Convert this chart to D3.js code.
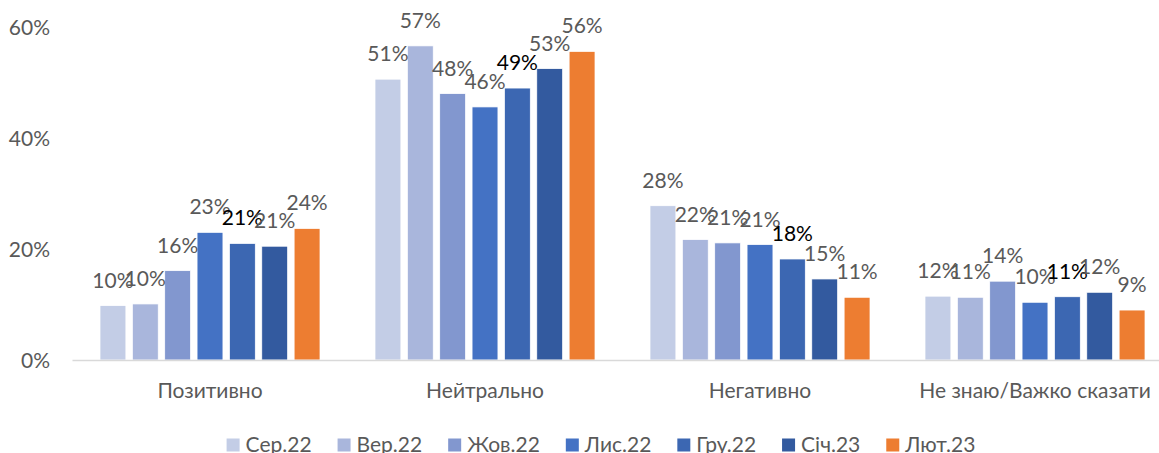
<!DOCTYPE html>
<html>
<head>
<meta charset="utf-8">
<script src="https://cdn.jsdelivr.net/npm/d3@7"></script>
<style>
  body { margin: 0; background: #fff; }
  text { font-family: Lato, "Noto Sans", sans-serif; }
</style>
</head>
<body>
<div id="svganchor"></div>
<script>
let width = 1159;
let height = 453;

// categories and series
let categories = ["Позитивно", "Нейтрально", "Негативно", "Не знаю/Важко сказати"];
let seriesNames = ["Сер.22", "Вер.22", "Жов.22", "Лис.22", "Гру.22", "Січ.23", "Лют.23"];
let seriesColors = ["#c3cde6", "#a9b6dc", "#8297cf", "#4472c4", "#3c67b2", "#335a9f", "#ed7d31"];
let labelColors = ["#595959", "#595959", "#595959", "#595959", "#000000", "#595959", "#595959"];

// values per series, in category order (shares)
let sep22 = [0.098, 0.506, 0.278, 0.115];
let ver22 = [0.101, 0.566, 0.217, 0.113];
let zhov22 = [0.161, 0.480, 0.211, 0.142];
let lys22 = [0.230, 0.456, 0.208, 0.104];
let hru22 = [0.210, 0.490, 0.182, 0.114];
let sich23 = [0.205, 0.525, 0.146, 0.122];
let liut23 = [0.237, 0.556, 0.113, 0.090];
let seriesValues = [sep22, ver22, zhov22, lys22, hru22, sich23, liut23];

let yTicks = [0, 0.2, 0.4, 0.6];

let svg = d3.select("#svganchor").append("svg").attr("width", width).attr("height", height);

let x0 = d3.scaleBand().domain(categories).range([72.5, 1172.5]).paddingInner(0.2).paddingOuter(0.1);
let x1 = d3.scaleBand().domain(seriesNames).range([0, x0.bandwidth()]).paddingInner(0.2);
let y = d3.scaleLinear().domain([0, 0.6]).range([360, 27]);

// y tick labels (no axis line, no gridlines)
svg.append("g").selectAll("text").data(yTicks).enter().append("text")
  .attr("x", 50)
  .attr("y", d => y(d) + 7.5)
  .attr("text-anchor", "end")
  .attr("fill", "#595959")
  .style("font-size", "21px")
  .text(d => d3.format(".0%")(d));

// flatten to one record per bar
let bars = [];
categories.forEach(function (c, ci) {
  seriesNames.forEach(function (s, si) {
    bars.push({ cat: c, series: s, si: si, value: seriesValues[si][ci] });
  });
});

svg.append("g").selectAll("rect").data(bars).enter().append("rect")
  .attr("x", d => x0(d.cat) + x1(d.series))
  .attr("y", d => y(d.value))
  .attr("width", x1.bandwidth())
  .attr("height", d => y(0) - y(d.value))
  .attr("fill", d => seriesColors[d.si])
  .attr("stroke", "#ffffff")
  .attr("stroke-width", 0.75);

// x axis line
svg.append("line")
  .attr("x1", 72.5).attr("x2", width)
  .attr("y1", y(0) + 0.5).attr("y2", y(0) + 0.5)
  .attr("stroke", "#d9d9d9").attr("stroke-width", 1.5);

// data labels
svg.append("g").selectAll("text").data(bars).enter().append("text")
  .attr("x", d => x0(d.cat) + x1(d.series) + x1.bandwidth() / 2)
  .attr("y", d => y(d.value) - 18)
  .attr("text-anchor", "middle")
  .attr("fill", d => labelColors[d.si])
  .style("font-size", "21px")
  .text(d => Math.round(d.value * 100) + "%");

// category labels
svg.append("g").selectAll("text").data(categories).enter().append("text")
  .attr("x", d => x0(d) + x0.bandwidth() / 2)
  .attr("y", 398)
  .attr("text-anchor", "middle")
  .attr("fill", "#595959")
  .style("font-size", "21px")
  .text(d => d);

// legend, laid out from measured text widths
let legend = svg.append("g");
let items = legend.selectAll("g").data(seriesNames).enter().append("g");
items.append("rect").attr("width", 13).attr("height", 13).attr("y", 438.5)
  .attr("fill", (d, i) => seriesColors[i]);
items.append("text").attr("x", 19).attr("y", 451.5)
  .attr("fill", "#595959").style("font-size", "21px").text(d => d);

let widths = [];
items.each(function () { widths.push(this.getBBox().width); });
let total = d3.sum(widths) + 26 * (widths.length - 1);
let cx = 601 - total / 2;
items.attr("transform", function (d, i) {
  let t = "translate(" + cx + ",0)";
  cx += widths[i] + 26;
  return t;
});
</script>
</body>
</html>
